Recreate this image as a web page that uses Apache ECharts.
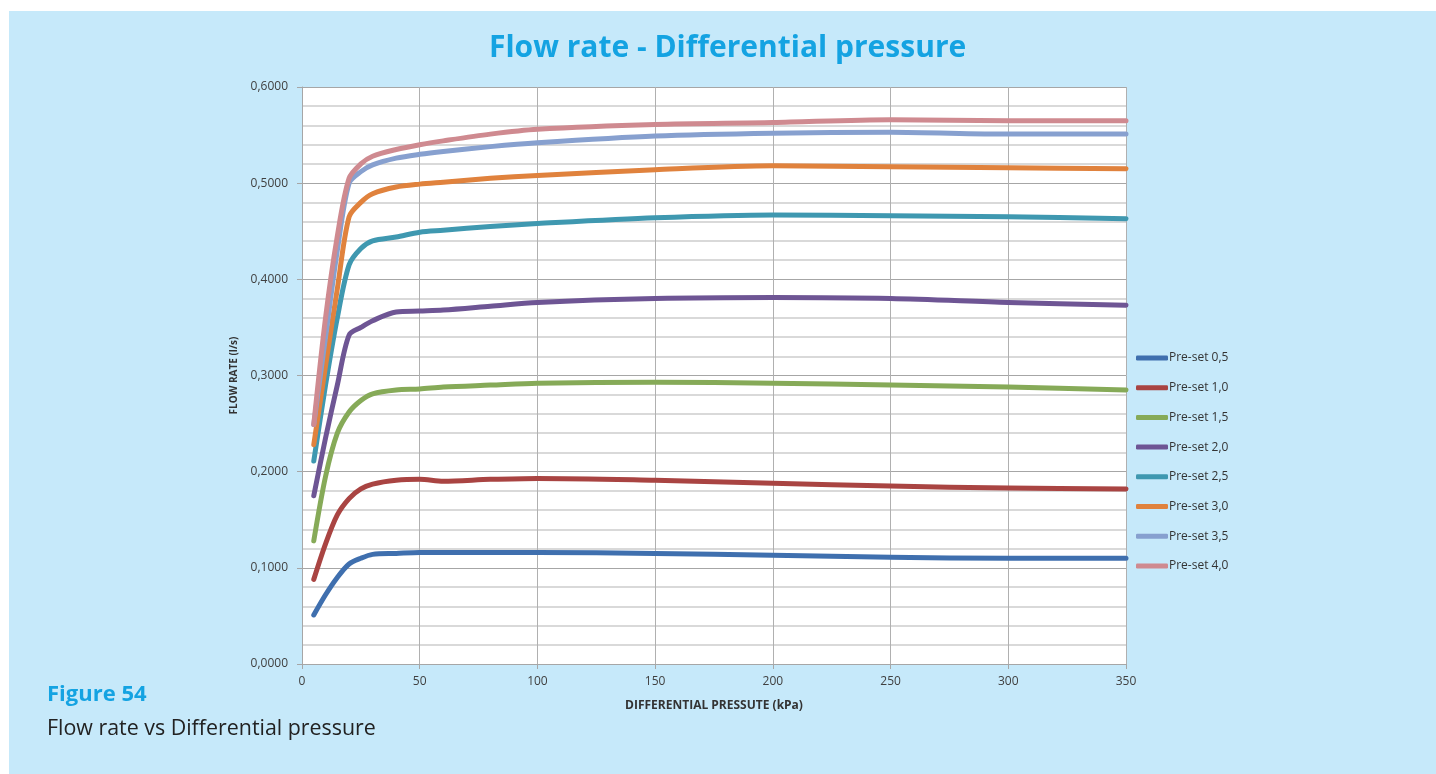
<!DOCTYPE html>
<html>
<head>
<meta charset="utf-8">
<title>Flow rate - Differential pressure</title>
<script src="https://cdn.jsdelivr.net/npm/echarts@6/dist/echarts.min.js"></script>
<style>
	html, body {
		margin: 0;
		padding: 0;
		background: #fff;
	}
	#panel {
		position: absolute;
		left: 9px;
		top: 11px;
		right: 0;
		bottom: 0;
		background: #c6e9fa;
	}
	#chart {
		position: absolute;
		left: 0;
		top: 0;
		width: 1436px;
		height: 774px;
	}
</style>
</head>
<body>
<div id="panel"></div>
<div id="chart"></div>
<script>
	// differential pressure (kPa)
	var pressure = [5, 10, 15, 20, 25, 30, 40, 50, 60, 80, 100, 150, 200, 250, 300, 350];

	// flow rate (l/s) per pre-set
	var preset05 = [0.051, 0.072, 0.090, 0.104, 0.110, 0.114, 0.115, 0.116, 0.116, 0.116, 0.116, 0.115, 0.113, 0.111, 0.110, 0.110];
	var preset10 = [0.088, 0.125, 0.155, 0.172, 0.182, 0.187, 0.191, 0.192, 0.190, 0.192, 0.193, 0.191, 0.188, 0.185, 0.183, 0.182];
	var preset15 = [0.128, 0.195, 0.240, 0.262, 0.274, 0.281, 0.285, 0.286, 0.288, 0.290, 0.292, 0.293, 0.292, 0.290, 0.288, 0.285];
	var preset20 = [0.175, 0.235, 0.290, 0.342, 0.350, 0.357, 0.366, 0.367, 0.368, 0.372, 0.376, 0.380, 0.381, 0.380, 0.376, 0.373];
	var preset25 = [0.211, 0.290, 0.360, 0.415, 0.432, 0.440, 0.444, 0.449, 0.451, 0.455, 0.458, 0.464, 0.467, 0.466, 0.465, 0.463];
	var preset30 = [0.228, 0.310, 0.390, 0.465, 0.480, 0.489, 0.496, 0.499, 0.501, 0.505, 0.508, 0.514, 0.518, 0.517, 0.516, 0.515];
	var preset35 = [0.249, 0.340, 0.430, 0.500, 0.512, 0.519, 0.526, 0.530, 0.533, 0.538, 0.542, 0.549, 0.552, 0.553, 0.551, 0.551];
	var preset40 = [0.249, 0.360, 0.445, 0.505, 0.520, 0.528, 0.535, 0.540, 0.544, 0.551, 0.556, 0.561, 0.563, 0.566, 0.565, 0.565];

	var seriesNames = ['Pre-set 0,5', 'Pre-set 1,0', 'Pre-set 1,5', 'Pre-set 2,0', 'Pre-set 2,5', 'Pre-set 3,0', 'Pre-set 3,5', 'Pre-set 4,0'];
	var seriesValues = [preset05, preset10, preset15, preset20, preset25, preset30, preset35, preset40];
	var colors = ['#3f6fae', '#a94442', '#86aa58', '#6e5594', '#3f98b0', '#e0823d', '#87a0cf', '#cf8a90'];

	var chart = echarts.init(document.getElementById('chart'), null, { renderer: 'canvas' });

	var series = seriesNames.map(function (name, i) {
		return {
			name: name,
			type: 'line',
			smooth: 0.3,
			showSymbol: false,
			symbol: 'none',
			color: colors[i],
			lineStyle: {
				width: 5,
				cap: 'round',
				join: 'round'
			},
			data: pressure.map(function (p, j) {
				return [p, seriesValues[i][j]];
			})
		};
	});

	var option = {
		animation: false,
		backgroundColor: 'transparent',
		textStyle: {
			fontFamily: 'Open Sans, Noto Sans, sans-serif'
		},
		title: [{
			text: 'Flow rate - Differential pressure',
			left: 484,
			top: 28,
			textStyle: {
				color: '#14a3e2',
				fontSize: 30,
				fontWeight: 'bold',
				fontFamily: 'Open Sans'
			}
		}, {
			text: 'Figure 54',
			left: 42,
			top: 679,
			textStyle: {
				color: '#14a3e2',
				fontSize: 22,
				fontWeight: 'bold',
				fontFamily: 'Open Sans'
			}
		}, {
			text: 'Flow rate vs Differential pressure',
			left: 42,
			top: 713,
			textStyle: {
				color: '#222',
				fontSize: 21.4,
				fontWeight: 'normal',
				fontFamily: 'Open Sans'
			}
		}],
		legend: {
			orient: 'vertical',
			left: 1131,
			top: 347,
			icon: 'roundRect',
			itemWidth: 32,
			itemHeight: 5,
			itemGap: 17.7,
			itemStyle: {
				borderWidth: 0
			},
			textStyle: {
				color: '#333',
				fontSize: 12,
				padding: [0, 0, 0, -4]
			},
			data: seriesNames
		},
		grid: {
			left: 302,
			right: 310,
			top: 87,
			bottom: 110,
			show: true,
			backgroundColor: '#fff',
			borderWidth: 0
		},
		xAxis: {
			type: 'value',
			min: 0,
			max: 350,
			interval: 50,
			name: 'DIFFERENTIAL PRESSUTE (kPa)',
			nameLocation: 'middle',
			nameGap: 36,
			nameTextStyle: {
				color: '#333',
				fontSize: 12,
				fontWeight: 'bold'
			},
			axisLine: {
				lineStyle: { color: '#a6a6a6', width: 1 }
			},
			axisTick: {
				show: true,
				length: 5,
				lineStyle: { color: '#a6a6a6' }
			},
			axisLabel: {
				color: '#404040',
				fontSize: 12,
				margin: 12
			},
			splitLine: {
				show: true,
				lineStyle: { color: '#b0b0b0', width: 1 }
			}
		},
		yAxis: {
			type: 'value',
			min: 0,
			max: 0.6,
			interval: 0.1,
			name: 'FLOW RATE (l/s)',
			nameLocation: 'middle',
			nameGap: 63,
			nameRotate: 90,
			nameTextStyle: {
				color: '#333',
				fontSize: 10,
				fontWeight: 'bold'
			},
			axisLine: {
				show: true,
				lineStyle: { color: '#a6a6a6', width: 1 }
			},
			axisTick: {
				show: true,
				length: 5,
				lineStyle: { color: '#a6a6a6' }
			},
			axisLabel: {
				color: '#404040',
				fontSize: 12,
				margin: 14,
				formatter: function (v) {
					return v.toFixed(4).replace('.', ',');
				}
			},
			splitLine: {
				show: true,
				lineStyle: { color: '#a6a6a6', width: 1 }
			},
			minorTick: {
				show: false,
				splitNumber: 5
			},
			minorSplitLine: {
				show: true,
				lineStyle: { color: '#d9d9d9', width: 2 }
			}
		},
		series: series
	};

	chart.setOption(option);
</script>
</body>
</html>
